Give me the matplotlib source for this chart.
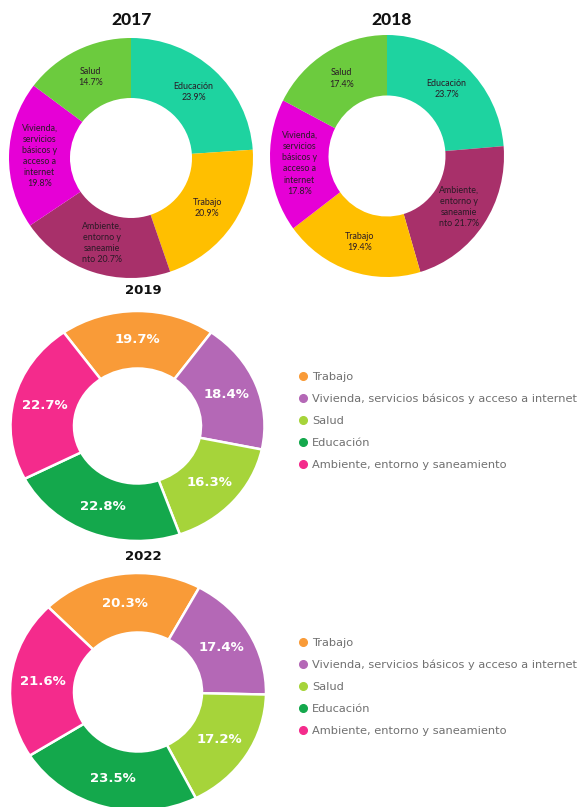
import matplotlib
matplotlib.use("Agg")
import matplotlib.pyplot as plt
from matplotlib.lines import Line2D
import numpy as np

W, H = 586, 807

# ---------------- data ----------------
cats_2017 = ["Educación", "Trabajo", "Ambiente, entorno y saneamiento",
             "Vivienda, servicios básicos y acceso a internet", "Salud"]
vals_2017 = [23.9, 20.9, 20.7, 19.8, 14.7]
labels_2017 = ["Educación\n23.9%", "Trabajo\n20.9%",
               "Ambiente,\nentorno y\nsaneamie\nnto 20.7%",
               "Vivienda,\nservicios\nbásicos y\nacceso a\ninternet\n19.8%",
               "Salud\n14.7%"]

cats_2018 = ["Educación", "Ambiente, entorno y saneamiento", "Trabajo",
             "Vivienda, servicios básicos y acceso a internet", "Salud"]
vals_2018 = [23.7, 21.7, 19.4, 17.8, 17.4]
labels_2018 = ["Educación\n23.7%",
               "Ambiente,\nentorno y\nsaneamie\nnto 21.7%",
               "Trabajo\n19.4%",
               "Vivienda,\nservicios\nbásicos y\nacceso a\ninternet\n17.8%",
               "Salud\n17.4%"]

cats_new = ["Trabajo", "Vivienda, servicios básicos y acceso a internet",
            "Salud", "Educación", "Ambiente, entorno y saneamiento"]
vals_2019 = [19.7, 18.4, 16.3, 22.8, 22.7]
vals_2022 = [20.3, 17.4, 17.2, 23.5, 21.6]

# ---------------- styles ----------------
old_colors = {"Educación": "#1ED3A0", "Trabajo": "#FFBF00",
              "Ambiente, entorno y saneamiento": "#A8306A",
              "Vivienda, servicios básicos y acceso a internet": "#E600D6",
              "Salud": "#6CCB3E"}
new_colors = ["#F99B38", "#B468B6", "#A6D43A", "#14A84C", "#F42B8C"]

fig = plt.figure(figsize=(W / 100, H / 100), dpi=100)
fig.patch.set_facecolor("white")


def box(cx, cy, rx, ry):
    return [(cx - rx) / W, 1 - (cy + ry) / H, 2 * rx / W, 2 * ry / H]


def donut(rect, vals, colors, start, edge, lw):
    ax = fig.add_axes(rect)
    wedges, _ = ax.pie(vals, colors=colors, startangle=start, counterclock=False,
                       radius=1.0, wedgeprops=dict(width=0.5, edgecolor=edge, linewidth=lw))
    ax.set_aspect("auto")
    ax.set_xlim(-1, 1)
    ax.set_ylim(-1, 1)
    ax.axis("off")
    return ax, wedges


def place_labels(ax, wedges, texts, r, **kw):
    for w, t in zip(wedges, texts):
        ang = np.deg2rad((w.theta1 + w.theta2) / 2)
        ax.text(r * np.cos(ang), r * np.sin(ang), t, ha="center", va="center", **kw)


small_font = ["Lato", "DejaVu Sans"]
small_kw = dict(fontsize=6.4, color="#2a1a26", family=small_font, linespacing=1.3)

# 2017
ax, wd = donut(box(131, 158, 122, 120), vals_2017, [old_colors[c] for c in cats_2017], 90, "none", 0)
place_labels(ax, wd, labels_2017, 0.75, **small_kw)
fig.text(131 / W, 1 - 20 / H, "2017", ha="center", va="center", fontsize=12.5,
         fontweight="black", family=["Lato", "DejaVu Sans"], color="#111111")

# 2018
ax, wd = donut(box(387, 156, 117, 121), vals_2018, [old_colors[c] for c in cats_2018], 90, "none", 0)
place_labels(ax, wd, labels_2018, 0.75, **small_kw)
fig.text(392 / W, 1 - 20 / H, "2018", ha="center", va="center", fontsize=12.5,
         fontweight="black", family=["Lato", "DejaVu Sans"], color="#111111")

# 2019
ax, wd = donut(box(137.5, 426, 127, 115), vals_2019, new_colors, 125.5, "white", 1.8)
place_labels(ax, wd, [f"{v}%" for v in vals_2019], 0.75, fontsize=9.5, color="white",
             fontweight="bold", family=["DejaVu Sans"])
fig.text(143 / W, 1 - 290 / H, "2019", ha="center", va="center", fontsize=9.5,
         fontweight="bold", family=["DejaVu Sans"], color="#111111")

# 2022
ax, wd = donut(box(138, 692, 128, 119), vals_2022, new_colors, 134.5, "white", 1.8)
place_labels(ax, wd, [f"{v}%" for v in vals_2022], 0.75, fontsize=9.5, color="white",
             fontweight="bold", family=["DejaVu Sans"])
fig.text(143 / W, 1 - 557 / H, "2022", ha="center", va="center", fontsize=9.5,
         fontweight="bold", family=["DejaVu Sans"], color="#111111")

# legends
handles = [Line2D([], [], marker="o", linestyle="none", markersize=5.5,
                  markerfacecolor=c, markeredgecolor=c) for c in new_colors]
for top in (372, 638):
    fig.legend(handles, cats_new, loc="upper left",
               bbox_to_anchor=(298 / W, 1 - top / H), frameon=False,
               labelcolor="#707070", handletextpad=0.35,
               labelspacing=1.05, borderpad=0, borderaxespad=0, handlelength=0.9,
               prop={"family": ["DejaVu Sans"], "size": 8.2})

fig.savefig("out.png", dpi=100, facecolor="white")
